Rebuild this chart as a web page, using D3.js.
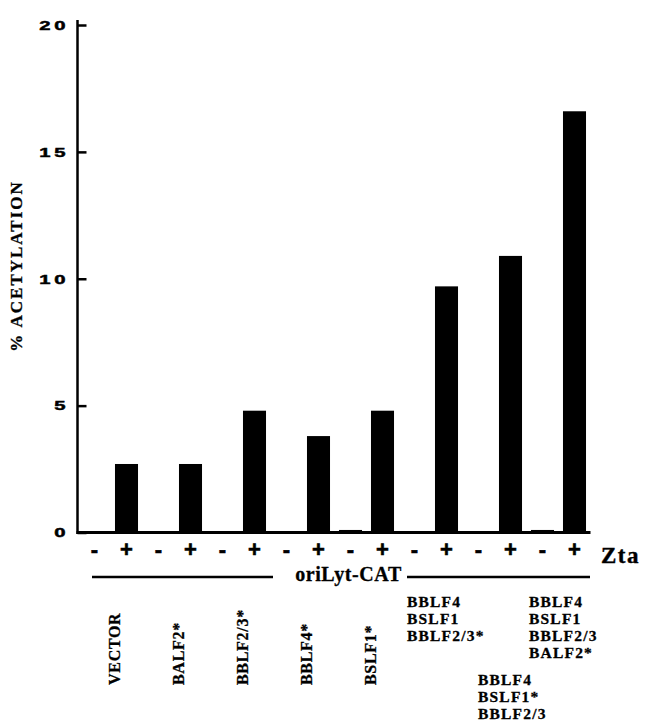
<!DOCTYPE html>
<html>
<head>
<meta charset="utf-8">
<script src="https://cdn.jsdelivr.net/npm/d3@7"></script>
<style>
  html, body { margin: 0; padding: 0; background: #fff; }
  svg { display: block; }
  .serif { font-family: "Liberation Serif", "Times New Roman", serif; font-weight: bold; }
  .sans { font-family: "Liberation Sans", Arial, sans-serif; font-weight: bold; }
</style>
</head>
<body>
<svg id="chart" width="645" height="723"></svg>
<script>
// ---- data ----
const zta = ["-", "+", "-", "+", "-", "+", "-", "+", "-", "+", "-", "+", "-", "+", "-", "+"];
const acetylation = [0, 2.7, 0, 2.7, 0, 4.8, 0, 3.8, 0.1, 4.8, 0, 9.7, 0, 10.9, 0.1, 16.6];
const singleLabels = ["VECTOR", "BALF2*", "BBLF2/3*", "BBLF4*", "BSLF1*"];
const comboLabels = [
  ["BBLF4", "BSLF1", "BBLF2/3*"],
  ["BBLF4", "BSLF1*", "BBLF2/3"],
  ["BBLF4", "BSLF1", "BBLF2/3", "BALF2*"]
];
const yTicks = [0, 5, 10, 15, 20];
const yLabel = "% ACETYLATION";
const groupLabel = "oriLyt-CAT";
const ztaLabel = "Zta";

// ---- drawing ----
const svg = d3.select("#chart");
svg.append("rect").attr("width", 645).attr("height", 723).attr("fill", "#fff");

const x = d3.scalePoint().domain(d3.range(zta.length)).range([94.5, 574.5]);
const y = d3.scaleLinear().domain([0, 20]).range([532.5, 25]);
const barW = x.step() * 0.72;
const axisX = 77.5;

// bars
svg.append("g").selectAll("rect")
  .data(acetylation)
  .join("rect")
  .attr("x", (d, i) => x(i) - barW / 2)
  .attr("y", d => y(d))
  .attr("width", barW)
  .attr("height", d => y(0) - y(d))
  .attr("fill", "#000");

// y axis
const yAxis = d3.axisLeft(y).tickValues(yTicks).tickFormat(d3.format("d"))
  .tickSizeInner(-9).tickSizeOuter(0).tickPadding(9);
const gy = svg.append("g").attr("transform", `translate(${axisX},0)`).call(yAxis);
gy.select(".domain").remove();
gy.selectAll(".tick line").attr("stroke", "#000").attr("stroke-width", 2.5);
const sx = 1.5;
gy.selectAll(".tick text")
  .attr("class", "sans")
  .attr("font-size", 13.5)
  .attr("letter-spacing", "2.6px")
  .attr("fill", "#000")
  .attr("stroke", "#000")
  .attr("stroke-width", 0.5)
  .attr("x", -8 / sx)
  .attr("transform", `scale(${sx},1)`);
svg.append("line")
  .attr("x1", axisX).attr("x2", axisX)
  .attr("y1", y(20) - 5).attr("y2", y(0) + 1.5)
  .attr("stroke", "#000").attr("stroke-width", 2.5);

// baseline
svg.append("line")
  .attr("x1", axisX - 1).attr("x2", x(zta.length - 1) + 16)
  .attr("y1", y(0)).attr("y2", y(0))
  .attr("stroke", "#000").attr("stroke-width", 3);

// y label
svg.append("text")
  .attr("class", "serif")
  .attr("font-size", 17)
  .attr("letter-spacing", "2px")
  .attr("text-anchor", "middle")
  .attr("dy", "0.35em")
  .attr("stroke", "#000").attr("stroke-width", 0.3)
  .attr("transform", "translate(16,266) rotate(-90)")
  .text(yLabel);

// Zta signs
svg.append("g").selectAll("text")
  .data(zta)
  .join("text")
  .attr("class", "sans")
  .attr("font-size", 22)
  .attr("text-anchor", "middle")
  .attr("stroke", "#000").attr("stroke-width", 0.6)
  .attr("x", (d, i) => x(i))
  .attr("y", 557)
  .text(d => d);

svg.append("text")
  .attr("class", "serif")
  .attr("font-size", 23)
  .attr("letter-spacing", "1.5px")
  .attr("stroke", "#000").attr("stroke-width", 0.4)
  .attr("x", 601)
  .attr("y", 563)
  .text(ztaLabel);

// oriLyt-CAT bracket
const lineY = 577;
svg.append("line").attr("x1", x(0) - 2.5).attr("x2", 273).attr("y1", lineY).attr("y2", lineY)
  .attr("stroke", "#000").attr("stroke-width", 2.5);
svg.append("line").attr("x1", 407).attr("x2", x(zta.length - 1) + 15.5).attr("y1", lineY).attr("y2", lineY)
  .attr("stroke", "#000").attr("stroke-width", 2.5);
svg.append("text")
  .attr("class", "serif")
  .attr("font-size", 20)
  .attr("letter-spacing", "0.6px")
  .attr("text-anchor", "middle")
  .attr("stroke", "#000").attr("stroke-width", 0.3)
  .attr("x", 348.5)
  .attr("y", 581)
  .text(groupLabel);

// single construct labels (vertical)
const pairCenter = k => (x(2 * k) + x(2 * k + 1)) / 2;
svg.append("g").selectAll("text")
  .data(singleLabels)
  .join("text")
  .attr("class", "serif")
  .attr("font-size", 16)
  .attr("letter-spacing", "0.7px")
  .attr("dy", "0.35em")
  .attr("stroke", "#000").attr("stroke-width", 0.3)
  .attr("transform", (d, k) => `translate(${pairCenter(k) + 4},685) rotate(-90)`)
  .text(d => d);

// combination labels (stacked)
const comboLayout = [
  { dx: -23.5, y: 607 },
  { dx: -16.5, y: 685 },
  { dx: -29.5, y: 607 }
];
comboLabels.forEach((lines, j) => {
  const k = singleLabels.length + j;
  const t = svg.append("text")
    .attr("class", "serif")
    .attr("font-size", 15.5)
    .attr("letter-spacing", "1.2px")
    .attr("stroke", "#000").attr("stroke-width", 0.3);
  lines.forEach((ln, r) => {
    t.append("tspan")
      .attr("x", pairCenter(k) + comboLayout[j].dx)
      .attr("y", comboLayout[j].y + r * 17)
      .text(ln);
  });
});
</script>
</body>
</html>
